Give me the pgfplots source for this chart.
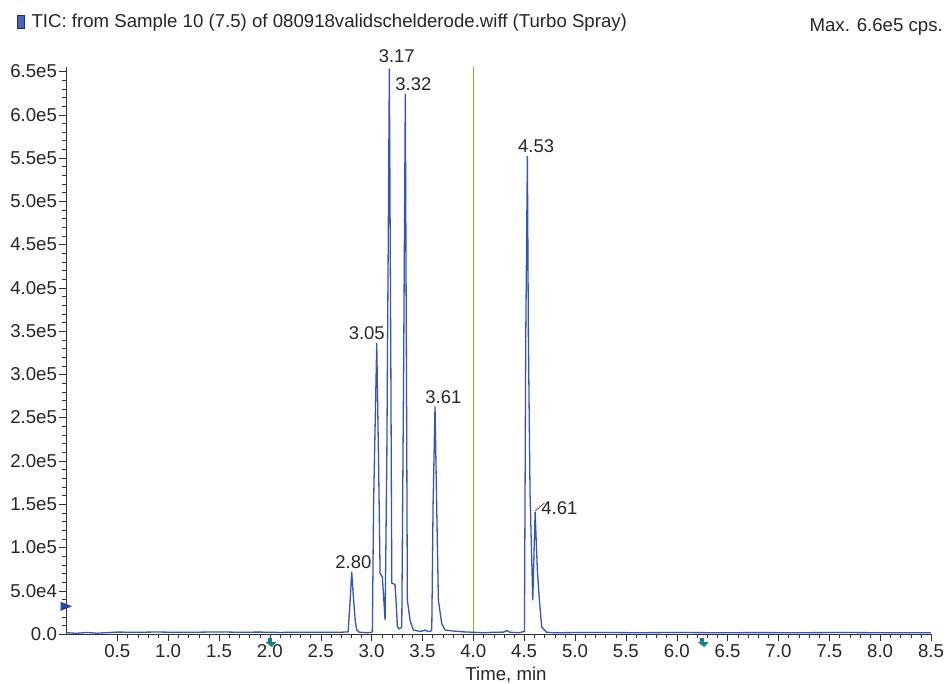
\documentclass[border=0pt]{standalone}
\usepackage{pgfplots}
\pgfplotsset{compat=1.18}
\usepackage{fontspec}
\setmainfont{Liberation Sans}

\definecolor{trace}{HTML}{3554B8}
\definecolor{olivemark}{HTML}{A5A22A}
\definecolor{axisgray}{HTML}{333333}
\definecolor{arrowteal}{HTML}{14827C}

% TIC trace (time in min, intensity in cps)
\pgfplotstableread{
t      cps
0.00   1500
0.10   800
0.20   1800
0.30   900
0.40   1600
0.50   2200
0.70   2000
0.90   2300
1.10   1900
1.30   2100
1.50   2400
1.70   2000
1.90   2200
2.10   1800
2.30   2100
2.50   1900
2.70   2000
2.77   2500
2.79   40000
2.805  72000
2.82   45000
2.84   15000
2.855  4600
2.88   2000
2.95   1500
3.00   1800
3.008  3000
3.02   150000
3.051  336000
3.07   190000
3.084  70000
3.106  66000
3.12   40000
3.133  16000
3.15   200000
3.175  653000
3.19   300000
3.199  59000
3.231  57000
3.245  30000
3.254  8500
3.27   6000
3.297  8000
3.315  300000
3.332  624000
3.345  250000
3.352  39000
3.38   15000
3.411  4600
3.477  3000
3.50   3500
3.526  4600
3.55   3000
3.58   3000
3.592  5000
3.605  150000
3.624  263000
3.64   150000
3.657  39000
3.69   12000
3.723  4600
3.80   3500
3.90   2500
4.00   2000
4.10   1500
4.20   2000
4.30   2200
4.33   4000
4.36   2000
4.45   1500
4.503  3000
4.516  343000
4.532  552000
4.542  343000
4.558  163000
4.585  39000
4.608  141000
4.63   74000
4.65   39000
4.673  8000
4.72   2000
4.80   1500
5.20   1800
5.60   1500
6.00   1700
6.40   1500
6.80   1600
7.20   1500
7.60   1700
8.00   1500
8.50   1500
}\tic

\begin{document}
\begin{tikzpicture}
\useasboundingbox (-66.4bp,-50bp) rectangle (879.6bp,634bp);
\begin{axis}[
    at={(0,0)}, anchor=south west,
    scale only axis,
    width=864.6bp, height=567bp,
    xmin=0, xmax=8.5,
    ymin=0, ymax=655000,
    axis lines=left,
    axis line style={-, draw=axisgray},
    tick align=outside,
    major tick length=7bp,
    minor tick length=4bp,
    tick style={axisgray},
    xtick={0.5,1,...,8.5},
    xticklabels={0.5,1.0,1.5,2.0,2.5,3.0,3.5,4.0,4.5,5.0,5.5,6.0,6.5,7.0,7.5,8.0,8.5},
    minor x tick num=4,
    ytick={0,50000,...,650000},
    yticklabels={0.0,5.0e4,1.0e5,1.5e5,2.0e5,2.5e5,3.0e5,3.5e5,4.0e5,4.5e5,5.0e5,5.5e5,6.0e5,6.5e5},
    minor y tick num=4,
    scaled y ticks=false,
    ticklabel style={font=\fontsize{18.7}{21}\selectfont, text=black!85},
    yticklabel style={xshift=1bp},
    clip=false,
]
\addplot[draw=olivemark, line width=1.4bp] coordinates {(4,0) (4,655000)};
\addplot[draw=trace, line width=1.3bp] table[x=t, y=cps] {\tic};
% left-edge marker
\addplot[only marks, mark=triangle*, mark size=7bp,
    mark options={rotate=-90, xscale=0.7, fill=trace!85!black, draw=trace!85!black}]
    coordinates {(-0.02,32000)};
% teal arrows below the baseline
\fill[arrowteal] (axis cs:2,0) ++(-2bp,-4bp) rectangle ++(4bp,-5bp);
\fill[arrowteal] (axis cs:2,0) ++(-4.5bp,-8bp) -- ++(9bp,0) -- ++(-4.5bp,-5bp) -- cycle;
\fill[arrowteal] (axis cs:6.25,0) ++(-2bp,-4bp) rectangle ++(4bp,-5bp);
\fill[arrowteal] (axis cs:6.25,0) ++(-4.5bp,-8bp) -- ++(9bp,0) -- ++(-4.5bp,-5bp) -- cycle;
% peak labels
\begin{scope}[every node/.style={font=\fontsize{18.5}{21}\selectfont, text=black!85}]
\node at (axis cs:2.821,83500) {2.80};
\node at (axis cs:2.953,347200) {3.05};
\node at (axis cs:3.248,667800) {3.17};
\node at (axis cs:3.411,634800) {3.32};
\node at (axis cs:3.706,273300) {3.61};
\node at (axis cs:4.618,563500) {4.53};
\node at (axis cs:4.847,145200) {4.61};
\end{scope}
\draw[black!80, line width=0.6bp] (axis cs:4.608,142000) -- (axis cs:4.700,151300);
\end{axis}
% header and axis title
\fill[trace!90!white, draw=trace!60!black, line width=0.6bp] (-49.4bp,606bp) rectangle (-42.4bp,619bp);
\node[anchor=base west, font=\fontsize{18.7}{21}\selectfont, text=black!85, inner sep=0pt]
    at (-35bp,606bp) {TIC: from Sample 10 (7.5) of 080918validschelderode.wiff (Turbo Spray)};
\node[anchor=base east, font=\fontsize{18.7}{21}\selectfont, text=black!85, inner sep=0pt]
    at (876.6bp,602bp) {Max. 6.6e5 cps.};
\node[font=\fontsize{18.7}{21}\selectfont, text=black!85] at (439.6bp,-41bp) {Time, min};
\end{tikzpicture}
\end{document}
